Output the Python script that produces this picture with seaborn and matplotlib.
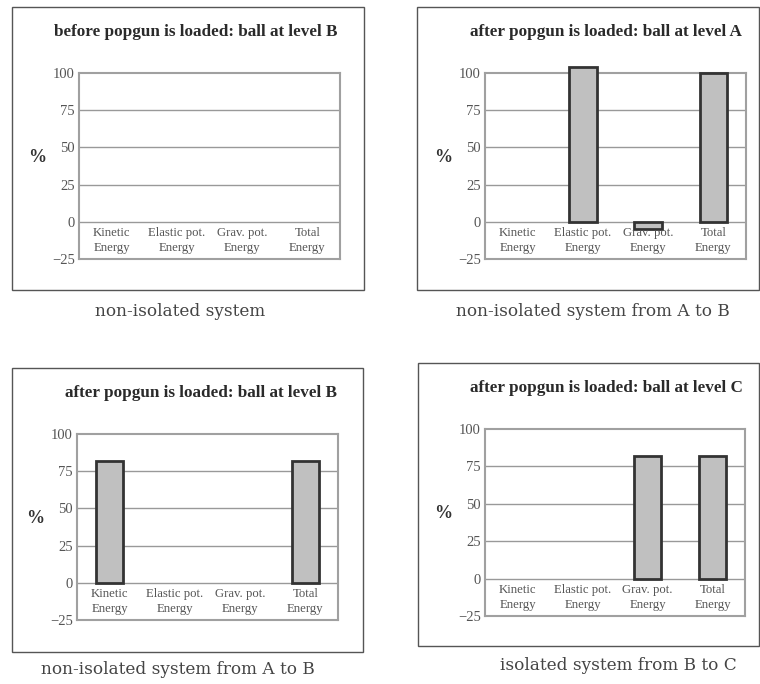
import numpy as np
import pandas as pd
import matplotlib
matplotlib.use("Agg")
from matplotlib import pyplot as plt
from matplotlib.patches import Rectangle
import seaborn as sns

# Chart data.
categories = ["Kinetic\nEnergy", "Elastic pot.\nEnergy", "Grav. pot.\nEnergy", "Total\nEnergy"]
titles = [
    "before popgun is loaded: ball at level B",
    "after popgun is loaded: ball at level A",
    "after popgun is loaded: ball at level B",
    "after popgun is loaded: ball at level C",
]
captions = [
    "non-isolated system",
    "non-isolated system from A to B",
    "non-isolated system from A to B",
    "isolated system from B to C",
]
before_level_b = [0, 0, 0, 0]
after_level_a = [0, 104, -5, 100]
after_level_b = [82, 0, 0, 82]
after_level_c = [0, 0, 82, 82]
y_ticks = [100, 75, 50, 25, 0, -25]

sns.set_theme(style="white")
plt.rcParams["font.family"] = ["Liberation Serif", "DejaVu Serif"]

W, H = 760, 684
fig = plt.figure(figsize=(W / 100, H / 100), dpi=100)


def frac(left, top, right, bottom):
    """
    Convert pixel edges into figure fractions.
    """
    return [left / W, 1 - bottom / H, (right - left) / W, (bottom - top) / H]


# Layout of each panel (pixels): plot area, frame box, title centre, caption centre.
panels = [
    dict(data=before_level_b, ax=(79, 73, 340, 259), box=(12, 7, 364, 290), title=(196, 32), cap=(180, 312)),
    dict(data=after_level_a, ax=(485, 73, 746, 259), box=(417, 7, 759, 290), title=(606, 32), cap=(593, 312)),
    dict(data=after_level_b, ax=(77, 434, 338, 620), box=(12, 368, 363, 652), title=(201, 393), cap=(178, 670)),
    dict(data=after_level_c, ax=(485, 429, 745, 616), box=(418, 363, 759, 646), title=(606, 388), cap=(618, 665)),
]

for i, p in enumerate(panels):
    bl, bt, br, bb = p["box"]
    fig.patches.append(Rectangle((bl / W, 1 - bb / H), (br - bl) / W, (bb - bt) / H,
                                 transform=fig.transFigure, fill=False, edgecolor="#555555", linewidth=1.0))
    fig.text(p["title"][0] / W, 1 - p["title"][1] / H, titles[i], ha="center", va="center",
             fontsize=12.3, fontweight="bold", color="#2a2a2a")
    fig.text(p["cap"][0] / W, 1 - p["cap"][1] / H, captions[i], ha="center", va="center",
             fontsize=12.2, color="#444444", family=["DejaVu Serif"])

    ax = fig.add_axes(frac(*p["ax"]))
    df = pd.DataFrame({"cat": categories, "val": p["data"]})
    sns.barplot(data=df, x="cat", y="val", order=categories, color="#c0c0c0", saturation=1,
                width=0.42, edgecolor="#333333", linewidth=2, ax=ax, zorder=3)
    for bar in ax.patches:
        bar.set_clip_on(False)
        if bar.get_height() == 0:
            bar.set_visible(False)

    ax.set_xlim(-0.5, len(categories) - 0.5)
    ax.set_ylim(-25, 100)
    ax.set_yticks(y_ticks)
    ax.set_yticklabels(["100", "75", "50", "25", "0", "\u221225"], fontsize=10.5, color="#555555")
    ax.tick_params(axis="y", length=0, pad=3)
    ax.set_xticks([])
    ax.set_xlabel("")
    ax.set_ylabel("%", rotation=0, fontsize=13, fontweight="bold", color="#333333")
    ax.yaxis.set_label_coords(-0.16, 0.5)
    for y in [0, 25, 50, 75]:
        ax.axhline(y, color="#999999", linewidth=1.0, zorder=1)
    for side in ax.spines.values():
        side.set_visible(True)
        side.set_color("#a0a0a0")
        side.set_linewidth(1.5)
    for j, name in enumerate(categories):
        ax.text(j, -12.5, name, ha="center", va="center", fontsize=9.2, color="#555555",
                linespacing=1.3, zorder=4)

fig.savefig("out.png", dpi=100)
